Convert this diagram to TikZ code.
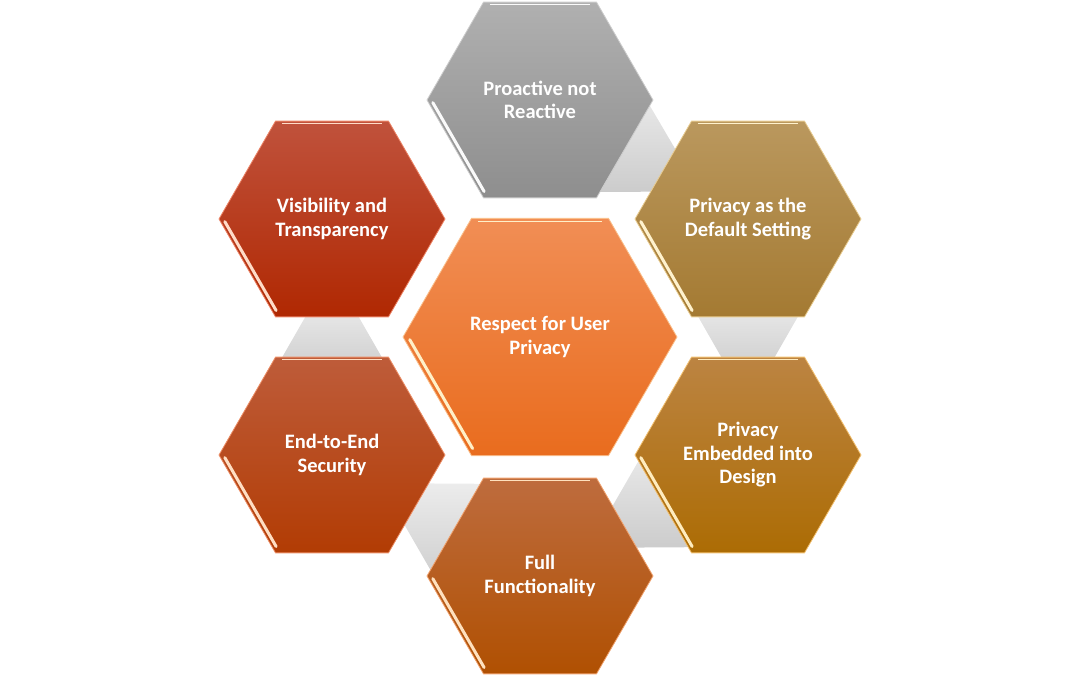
\documentclass[tikz,border=0pt]{standalone}
\usepackage{fontspec}
\setmainfont{Carlito}
\usetikzlibrary{shapes.geometric,calc}
\pgfdeclarelayer{background}
\pgfsetlayers{background,main}
\definecolor{grT}{RGB}{176,176,176}
\definecolor{grB}{RGB}{142,142,142}
\definecolor{grL}{RGB}{205,205,205}
\definecolor{grS}{RGB}{250,250,250}
\definecolor{gdT}{RGB}{186,152,94}
\definecolor{gdB}{RGB}{164,122,50}
\definecolor{gdL}{RGB}{232,204,145}
\definecolor{gdS}{RGB}{255,242,205}
\definecolor{emT}{RGB}{188,132,66}
\definecolor{emB}{RGB}{172,108,4}
\definecolor{emL}{RGB}{242,192,112}
\definecolor{emS}{RGB}{255,236,190}
\definecolor{ffT}{RGB}{190,108,62}
\definecolor{ffB}{RGB}{176,80,2}
\definecolor{ffL}{RGB}{240,162,110}
\definecolor{ffS}{RGB}{255,225,190}
\definecolor{eeT}{RGB}{190,92,58}
\definecolor{eeB}{RGB}{178,60,4}
\definecolor{eeL}{RGB}{236,142,102}
\definecolor{eeS}{RGB}{255,222,195}
\definecolor{vtT}{RGB}{192,82,60}
\definecolor{vtB}{RGB}{176,40,2}
\definecolor{vtL}{RGB}{236,132,102}
\definecolor{vtS}{RGB}{255,220,200}
\definecolor{ceT}{RGB}{241,142,85}
\definecolor{ceB}{RGB}{233,108,30}
\definecolor{ceL}{RGB}{250,192,140}
\definecolor{ceS}{RGB}{255,240,200}
\definecolor{cnTop}{RGB}{236,236,236}
\definecolor{cnBot}{RGB}{204,204,204}
\tikzset{
  hexbase/.style={regular polygon, regular polygon sides=6, inner sep=0pt, outer sep=0pt,
    text=white, font=\fontsize{20.5}{23.5}\selectfont\bfseries, align=center, line width=0.8pt},
  outerhex/.style={hexbase, minimum size=226pt},
  centerhex/.style={hexbase, minimum size=274pt},
  shine/.style={line width=3pt, line cap=round, shorten <=3pt, shorten >=3pt},
  topshine/.style={line width=1.4pt, shorten <=5pt, shorten >=5pt},
  connfill/.style={top color=cnTop, bottom color=cnBot},
}
\newcommand\hexshine[2]{%
  \draw[shine, #2] ($(#1.center)!0.962!(#1.180)$) -- ($(#1.center)!0.962!(#1.240)$);
  \draw[topshine, #2] ($(#1.center)!0.975!(#1.120)$) -- ($(#1.center)!0.975!(#1.60)$);
}
\newcommand\hexconn[2]{%
  \shade[connfill]
    ($(#1)!80pt!(#2)!60pt!90:(#2)$) -- ($(#1)!80pt!(#2)!60pt!-90:(#2)$) --
    ($(#1)!155pt!(#2)!17pt!-90:(#2)$) -- ($(#1)!155pt!(#2)!17pt!90:(#2)$) -- cycle;
}
\begin{document}
\begin{tikzpicture}[x=1pt,y=-1pt]
\useasboundingbox (0,0) rectangle (1080,675);
\node[outerhex, top color=grT, bottom color=grB, draw=grL] (pro) at (540,100) {Proactive not\\Reactive};
\node[outerhex, top color=gdT, bottom color=gdB, draw=gdL] (def) at (748,219) {Privacy as the\\Default Setting};
\node[outerhex, top color=emT, bottom color=emB, draw=emL] (emb) at (748,455) {Privacy\\Embedded into\\Design};
\node[outerhex, top color=ffT, bottom color=ffB, draw=ffL] (ful) at (540,576) {Full\\Functionality};
\node[outerhex, top color=eeT, bottom color=eeB, draw=eeL] (ete) at (332,455) {End-to-End\\Security};
\node[outerhex, top color=vtT, bottom color=vtB, draw=vtL] (vis) at (332,219) {Visibility and\\Transparency};
\node[centerhex, top color=ceT, bottom color=ceB, draw=ceL] (res) at (540,337) {Respect for User\\Privacy};
\hexshine{pro}{grS}
\hexshine{def}{gdS}
\hexshine{emb}{emS}
\hexshine{ful}{ffS}
\hexshine{ete}{eeS}
\hexshine{vis}{vtS}
\hexshine{res}{ceS}
\begin{pgfonlayer}{background}
\hexconn{pro}{def}
\hexconn{def}{emb}
\hexconn{emb}{ful}
\hexconn{ful}{ete}
\hexconn{ete}{vis}
\end{pgfonlayer}
\end{tikzpicture}
\end{document}
